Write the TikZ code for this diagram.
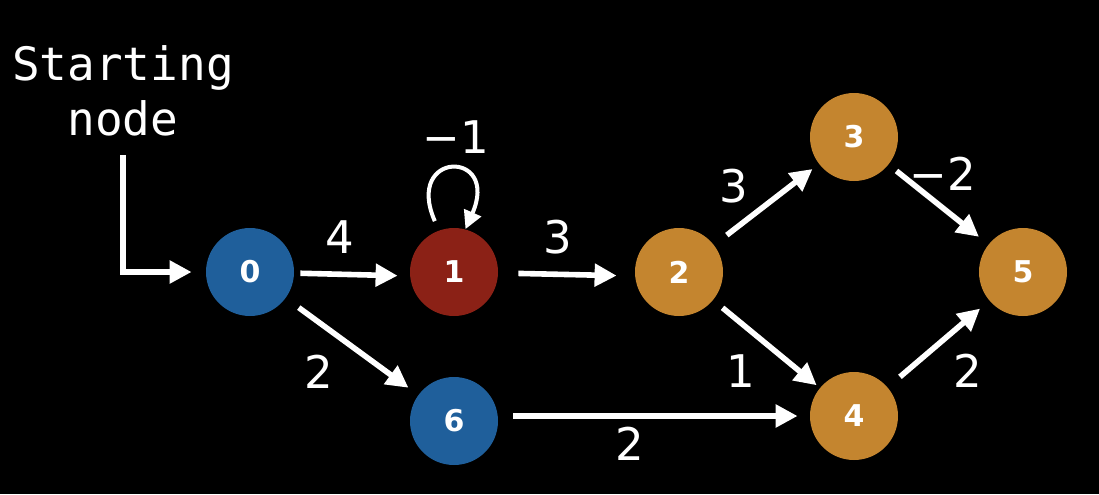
\documentclass[tikz,border=0pt]{standalone}
\usepackage{fontspec}
\setmainfont{DejaVu Sans}
\setmonofont{DejaVu Sans Mono}
\usetikzlibrary{arrows.meta,positioning}

\definecolor{nodeblue}{HTML}{1F5F9B}
\definecolor{nodered}{HTML}{8B2116}
\definecolor{nodeorange}{HTML}{C4852F}

\begin{document}
\begin{tikzpicture}[x=0.5pt,y=-0.5pt,
  vertex/.style={circle,minimum size=44pt,inner sep=0pt,text=white,
    font=\fontsize{15}{15}\selectfont\bfseries},
  wt/.style={text=white,anchor=base,inner sep=0pt,
    font=\fontsize{22.5}{22.5}\selectfont},
  arr/.style={white,line width=2.8pt,-{Triangle[length=11pt,width=11pt]},
    shorten <=7pt,shorten >=6pt}
]
\fill[black] (0,0) rectangle (1099,494);
\useasboundingbox (0,0) rectangle (1099,494);

% vertices
\node[vertex,fill=nodeblue]   (n0) at (250,272) {0};
\node[vertex,fill=nodered]    (n1) at (454,272) {1};
\node[vertex,fill=nodeorange] (n2) at (679,272) {2};
\node[vertex,fill=nodeorange] (n3) at (854,137) {3};
\node[vertex,fill=nodeorange] (n4) at (854,416) {4};
\node[vertex,fill=nodeorange] (n5) at (1023,272) {5};
\node[vertex,fill=nodeblue]   (n6) at (454,421) {6};

% start marker
\node[text=white,align=center,font=\fontsize{23}{27.5}\selectfont\ttfamily]
  (start) at (123,91) {Starting\\node};
\coordinate (startend) at (123,155);
\draw[arr,shorten <=0pt,shorten >=7pt] (startend) |- (n0);

% edges
\draw[arr,shorten <=3pt] (n0) -- ([yshift=-2pt]n1.west);
\draw[arr,shorten <=10pt,shorten >=9pt] (n1) -- ([yshift=-2pt]n2.west);
\draw[arr,shorten <=8pt,shorten >=4pt] (n2) -- (n3);
\draw[arr,shorten <=5pt] (n3) -- (n5);
\draw[arr,shorten <=6pt,shorten >=2pt] (n2) -- (n4);
\draw[arr,shorten <=8pt] (n4) -- (n5);
\draw[arr,shorten <=8pt] (n0) -- (n6);
\draw[arr,shorten <=7.5pt] (n6.east |- n4.west) -- (n4.west);
\draw[white,line width=2pt,-{Triangle[length=9pt,width=9pt]},
  shorten <=5pt,shorten >=0pt]
  (n1.110) .. controls +(-35,-80) and +(35,-80) .. (n1.75);

% weights
\node[wt] (w01) at (340,253) {4};
\node[wt] (w11) at (456,153) {−1};
\node[wt] (w12) at (558,253) {3};
\node[wt] (w23) at (734,202) {3};
\node[wt] (w35) at (943,190) {−2};
\node[wt] (w24) at (741,387) {1};
\node[wt] (w45) at (968,387) {2};
\node[wt] (w06) at (319,388) {2};
\node[wt] (w64) at (630,460) {2};
\end{tikzpicture}
\end{document}
